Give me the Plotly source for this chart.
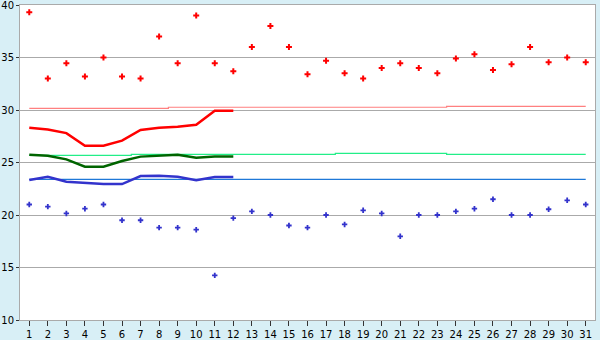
import plotly.graph_objects as go

days = list(range(1, 32))
tmax = [39.3, 33.0, 34.45, 33.2, 35.0, 33.2, 33.0, 37.0, 34.45, 39.0,
        34.45, 33.7, 36.0, 38.0, 36.0, 33.4, 34.7, 33.5, 33.0, 34.0,
        34.45, 34.0, 33.5, 34.9, 35.3, 33.8, 34.35, 36.0, 34.55, 35.0, 34.55]
tmin = [21.0, 20.8, 20.15, 20.6, 21.0, 19.5, 19.5, 18.8, 18.8, 18.6,
        14.25, 19.7, 20.35, 20.0, 19.0, 18.8, 20.0, 19.1, 20.45, 20.15,
        17.97, 20.0, 20.0, 20.35, 20.6, 21.5, 20.0, 20.0, 20.55, 21.4, 21.0]
norm_max = [30.16]*8 + [30.26]*15 + [30.35]*8
norm_mean = [25.68]*6 + [25.78]*11 + [25.87]*6 + [25.78]*8
norm_min = [23.4]*31
cur_days = list(range(1, 13))
avg_max = [28.31, 28.15, 27.8, 26.6, 26.6, 27.08, 28.1, 28.31, 28.4, 28.6, 29.93, 29.93]
avg_mean = [25.74, 25.65, 25.3, 24.6, 24.6, 25.14, 25.56, 25.65, 25.74, 25.46, 25.56, 25.56]
avg_min = [23.33, 23.65, 23.17, 23.08, 22.95, 22.95, 23.71, 23.74, 23.65, 23.3, 23.62, 23.62]

fig = go.Figure()
fig.add_trace(go.Scatter(x=days, y=norm_max, mode="lines", line=dict(color="#FF8080", width=1.2, shape="hvh")))
fig.add_trace(go.Scatter(x=days, y=norm_mean, mode="lines", line=dict(color="#22EE88", width=1.2, shape="hvh")))
fig.add_trace(go.Scatter(x=days, y=norm_min, mode="lines", line=dict(color="#1E78D8", width=1.2, shape="hvh")))
fig.add_trace(go.Scatter(x=cur_days, y=avg_max, mode="lines", line=dict(color="#FF0000", width=2.5)))
fig.add_trace(go.Scatter(x=cur_days, y=avg_mean, mode="lines", line=dict(color="#006400", width=2.5)))
fig.add_trace(go.Scatter(x=cur_days, y=avg_min, mode="lines", line=dict(color="#3333CC", width=2.5)))
fig.add_trace(go.Scatter(x=days, y=tmax, mode="markers", marker=dict(symbol="cross", size=5, color="#FF0000", line=dict(width=0))))
fig.add_trace(go.Scatter(x=days, y=tmin, mode="markers", marker=dict(symbol="cross", size=4.5, color="#3333CC", line=dict(width=0))))

fig.update_layout(
    width=600, height=340,
    margin=dict(l=20, r=5, t=5, b=20, autoexpand=False),
    paper_bgcolor="#D8EFF6", plot_bgcolor="#FFFFFF",
    showlegend=False,
    font=dict(family="DejaVu Sans", size=10, color="#000000"),
)
fig.update_xaxes(range=[0.5, 31.5], tickmode="array", tickvals=days, ticktext=[str(d) for d in days],
                 showgrid=False, zeroline=False, showline=True, linecolor="#AAAAAA", linewidth=1, mirror=True,
                 ticks="outside", ticklen=5, tickcolor="#333333", automargin=False, ticklabeloverflow="allow")
fig.update_yaxes(range=[10, 40], tickmode="array", tickvals=[10, 15, 20, 25, 30, 35, 40],
                 showgrid=True, gridcolor="#AAAAAA", gridwidth=1, zeroline=False,
                 showline=True, linecolor="#AAAAAA", linewidth=1, mirror=True,
                 ticks="outside", ticklen=3, tickcolor="#333333", automargin=False, ticklabeloverflow="allow")
fig.write_html("out.html")
